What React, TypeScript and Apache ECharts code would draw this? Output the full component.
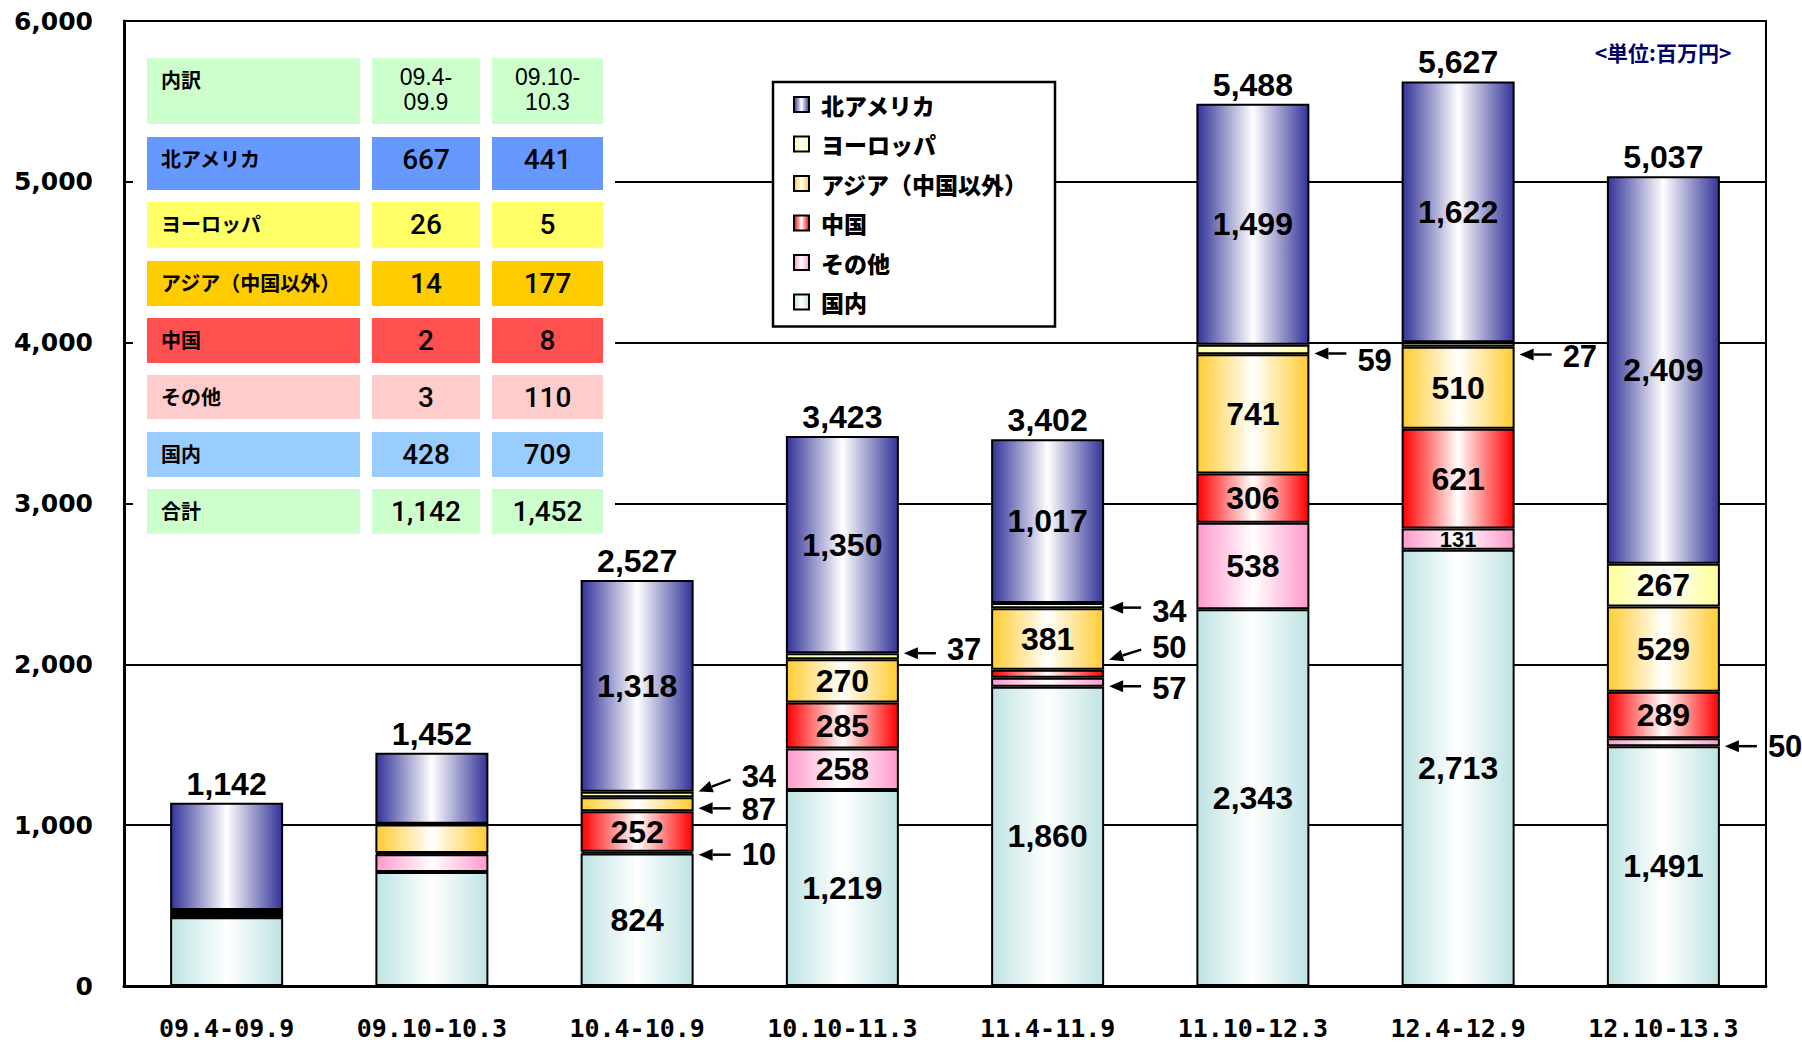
import React, { useEffect, useRef } from "react";
import * as echarts from "echarts";

// ---------- data ----------
const categories = ["09.4-09.9", "09.10-10.3", "10.4-10.9", "10.10-11.3", "11.4-11.9", "11.10-12.3", "12.4-12.9", "12.10-13.3"];
const domestic = [428, 709, 824, 1219, 1860, 2343, 2713, 1491];
const other = [3, 110, 10, 258, 57, 538, 131, 50];
const china = [2, 8, 252, 285, 50, 306, 621, 289];
const asia = [14, 177, 87, 270, 381, 741, 510, 529];
const europe = [26, 5, 34, 37, 34, 59, 27, 267];
const northAmerica = [667, 441, 1318, 1350, 1017, 1499, 1622, 2409];
const totals = [1142, 1452, 2527, 3423, 3402, 5488, 5627, 5037];

const seriesNames = ["国内", "その他", "中国", "アジア（中国以外）", "ヨーロッパ", "北アメリカ"]; // bottom -> top
const seriesData = [domestic, other, china, asia, europe, northAmerica];
const legendOrder = ["北アメリカ", "ヨーロッパ", "アジア（中国以外）", "中国", "その他", "国内"];

// small segments called out with arrows: category index + series index
const calloutCats = [2, 2, 2, 3, 4, 4, 4, 5, 6, 7];
const calloutSeries = [4, 3, 1, 4, 4, 2, 1, 4, 4, 1];

// table (first two periods)
const tableRowNames = ["北アメリカ", "ヨーロッパ", "アジア（中国以外）", "中国", "その他", "国内", "合計"];

// ---------- styles ----------
const seriesColors = ["#BFE3E3", "#FF99CC", "#FF0000", "#FFCC33", "#FFFF99", "#333399"];
const tableRowColors = ["#6699FF", "#FFFF66", "#FFCC00", "#FF5050", "#FFCCCC", "#99CCFF", "#CCFFCC"];
const calloutOffsets = [
  [-3, -15, -18],
  [4, 4, 5],
  [2, 2, 2],
  [-3, -3, -7],
  [2, 2, 6],
  [-14, -24, -26],
  [4, 4, 6],
  [4, 4, 11],
  [10, 10, 12],
  [4, 4, 4],
];
const BAR_W = 113;
const CJK = "'Noto Sans CJK JP', sans-serif";
const ARIAL = "'Liberation Sans', Arial, sans-serif";

const fmt = (v: number) => v.toLocaleString("en-US");

function grad(c: string) {
  return {
    type: "linear",
    x: 0,
    y: 0,
    x2: 1,
    y2: 0,
    colorStops: [
      { offset: 0, color: c },
      { offset: 0.5, color: "#FFFFFF" },
      { offset: 1, color: c },
    ],
  };
}

function buildTable() {
  const cols = [
    [147, 213],
    [372, 108],
    [492, 111],
  ];
  const rows = [
    [58, 66],
    [137, 53],
    [202, 46],
    [261, 45],
    [318, 45],
    [375, 44],
    [432, 45],
    [489, 45],
  ];
  const els: any[] = [];
  els.push({ type: "rect", z: 10, shape: { x: 133, y: 28, width: 482, height: 520 }, style: { fill: "#fff" } });
  const rowVals = [northAmerica, europe, asia, china, other, domestic, totals];
  const headerColor = "#CCFFCC";
  cols.forEach((c) => {
    els.push({ type: "rect", z: 11, shape: { x: c[0], y: rows[0][0], width: c[1], height: rows[0][1] }, style: { fill: headerColor } });
  });
  els.push({
    type: "text", z: 12,
    style: { text: "内訳", x: 161, y: rows[0][0] + 21, fill: "#000", fontFamily: CJK, fontWeight: "bold", fontSize: 20, align: "left", verticalAlign: "middle" },
  });
  [0, 1].forEach((k) => {
    const parts = categories[k].split("-");
    const cx = cols[k + 1][0] + cols[k + 1][1] / 2;
    els.push({
      type: "text", z: 12,
      style: { text: parts[0] + "-", x: cx, y: rows[0][0] + 19, fill: "#000", fontFamily: ARIAL, fontSize: 23, align: "center", verticalAlign: "middle" },
    });
    els.push({
      type: "text", z: 12,
      style: { text: parts[1], x: cx, y: rows[0][0] + 44, fill: "#000", fontFamily: ARIAL, fontSize: 23, align: "center", verticalAlign: "middle" },
    });
  });
  tableRowNames.forEach((name, r) => {
    const [ry, rh] = rows[r + 1];
    cols.forEach((c) => {
      els.push({ type: "rect", z: 11, shape: { x: c[0], y: ry, width: c[1], height: rh }, style: { fill: tableRowColors[r] } });
    });
    els.push({
      type: "text", z: 12,
      style: { text: name, x: 161, y: ry + 21, fill: "#000", fontFamily: CJK, fontWeight: "bold", fontSize: 20, align: "left", verticalAlign: "middle" },
    });
    [0, 1].forEach((k) => {
      const cx = cols[k + 1][0] + cols[k + 1][1] / 2;
      els.push({
        type: "text", z: 12,
        style: { text: fmt(rowVals[r][k]), x: cx, y: ry + 22, fill: "#000", fontFamily: "Roboto, sans-serif", fontWeight: 500, fontSize: 28, align: "center", verticalAlign: "middle" },
      });
    });
  });
  return els;
}

export default function App() {
  const ref = useRef<HTMLDivElement>(null);
  useEffect(() => {
    if (!ref.current) return;
    const chart = echarts.init(ref.current, null, { renderer: "svg" });

    const barSeries = seriesNames.map((name, s) => ({
      name,
      type: "bar",
      stack: "total",
      barWidth: BAR_W,
      z: 2,
      itemStyle: { color: grad(seriesColors[s]), borderColor: "#000", borderWidth: 2 },
      emphasis: { disabled: true },
      label: {
        position: "inside",
        color: "#000",
        fontFamily: ARIAL,
        fontWeight: "bold",
        fontSize: 32,
        formatter: (p: any) => fmt(p.value),
      },
      data: seriesData[s].map((v, i) => ({
        value: v,
        label: { show: i >= 2 && v >= 100, fontSize: v < 200 ? 22 : 32 },
      })),
    }));

    const calloutData = calloutCats.map((c, i) => {
      const s = calloutSeries[i];
      let base = 0;
      for (let k = 0; k < s; k++) base += seriesData[k][c];
      return [c, base + seriesData[s][c] / 2, seriesData[s][c]];
    });

    const option: any = {
      animation: false,
      backgroundColor: "#fff",
      grid: { left: 124, right: 36, top: 21, bottom: 56, show: true, borderColor: "#000", borderWidth: 2, backgroundColor: "transparent" },
      legend: {
        orient: "vertical",
        left: 773,
        top: 82,
        data: legendOrder,
        selectedMode: false,
        icon: "rect",
        itemWidth: 15,
        itemHeight: 15,
        itemGap: 16.5,
        padding: [11, 27, 13, 20],
        borderColor: "#000",
        borderWidth: 2.5,
        backgroundColor: "#fff",
        itemStyle: { borderColor: "#000", borderWidth: 2 },
        textStyle: { fontFamily: CJK, fontWeight: 900, fontSize: 23, color: "#000", padding: [0, 0, 0, 7] },
      },
      xAxis: {
        type: "category",
        data: categories,
        axisLine: { lineStyle: { color: "#000", width: 3 } },
        axisTick: { inside: true, length: 10, lineStyle: { color: "#000", width: 2 } },
        axisLabel: { color: "#000", fontFamily: "'DejaVu Sans Mono', monospace", fontWeight: "bold", fontSize: 25, margin: 30 },
        splitLine: { show: false },
      },
      yAxis: {
        type: "value",
        min: 0,
        max: 6000,
        interval: 1000,
        axisLine: { show: true, lineStyle: { color: "#000", width: 3 } },
        axisTick: { show: true, inside: true, length: 9, lineStyle: { color: "#000", width: 2 } },
        axisLabel: { color: "#000", fontFamily: "'DejaVu Sans', sans-serif", fontWeight: "bold", fontSize: 25, margin: 31, formatter: (v: number) => fmt(v) },
        splitLine: { show: true, lineStyle: { color: "#000", width: 2 } },
      },
      graphic: {
        elements: [
          ...buildTable(),
          {
            type: "text", z: 12,
            style: { text: "<単位:百万円>", x: 1663, y: 52, fill: "#000066", fontFamily: CJK, fontWeight: "bold", fontSize: 21, align: "center", verticalAlign: "middle" },
          },
        ],
      },
      series: [
        ...barSeries,
        {
          name: "合計",
          type: "scatter",
          symbol: "rect",
          symbolSize: 1,
          itemStyle: { color: "rgba(0,0,0,0)", opacity: 1 },
          silent: true,
          z: 5,
          label: {
            show: true,
            position: "top",
            distance: 2,
            color: "#000",
            opacity: 1,
            fontFamily: ARIAL,
            fontWeight: "bold",
            fontSize: 32,
            formatter: (p: any) => fmt(p.value),
          },
          data: totals,
        },
        {
          name: "callouts",
          type: "custom",
          silent: true,
          clip: false,
          z: 6,
          encode: { x: 0, y: 1 },
          data: calloutData,
          renderItem: (params: any, api: any) => {
            const i = params.dataIndex;
            const pt = api.coord([api.value(0), api.value(1)]);
            const off = calloutOffsets[i];
            const tipX = pt[0] + BAR_W / 2 + 5;
            const tipY = pt[1] + off[0];
            const tailX = tipX + 32;
            const tailY = pt[1] + off[1];
            const labelY = pt[1] + off[2];
            const ang = Math.atan2(tipY - tailY, tipX - tailX);
            const hl = 14;
            const hw = 6;
            const bx = tipX - hl * Math.cos(ang);
            const by = tipY - hl * Math.sin(ang);
            const nx = -Math.sin(ang) * hw;
            const ny = Math.cos(ang) * hw;
            return {
              type: "group",
              children: [
                { type: "line", shape: { x1: tailX, y1: tailY, x2: bx, y2: by }, style: { stroke: "#000", lineWidth: 2.5 } },
                { type: "polygon", shape: { points: [[tipX, tipY], [bx + nx, by + ny], [bx - nx, by - ny]] }, style: { fill: "#000" } },
                {
                  type: "text",
                  style: { text: fmt(api.value(2)), x: tipX + 43, y: labelY, fill: "#000", fontFamily: ARIAL, fontWeight: "bold", fontSize: 31, align: "left", verticalAlign: "middle" },
                },
              ],
            };
          },
        },
      ],
    };
    chart.setOption(option);
    return () => chart.dispose();
  }, []);
  return <div ref={ref} style={{ position: "fixed", left: 0, top: 0, width: 1802, height: 1042 }} />;
}
